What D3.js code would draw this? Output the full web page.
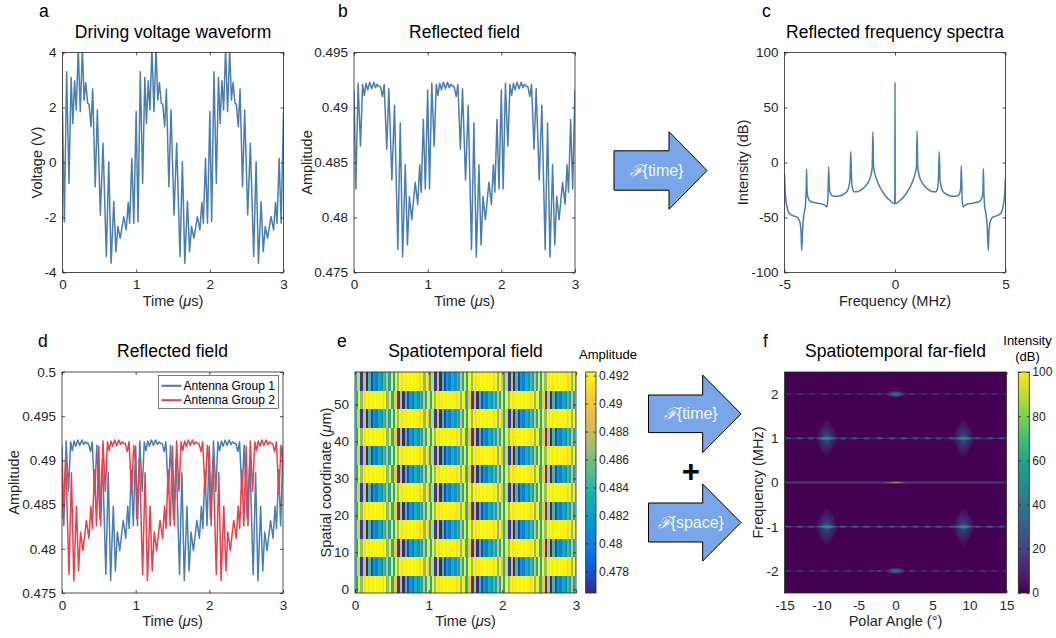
<!DOCTYPE html>
<html><head><meta charset="utf-8">
<script src="https://cdn.jsdelivr.net/npm/d3@7"></script>
<style>
body{margin:0;background:#fff;}
svg{display:block;font-family:"Liberation Sans",Arial,Helvetica,sans-serif;}
</style></head><body>
<svg id="fig" width="1056" height="638"></svg>
<script>
// ---------------- DATA ----------------
// panel a/b/d(group 1): sample times (µs)
const timeG1 = [
 0,0.025,0.056,0.088,0.117,0.140,0.164,0.187,0.214,0.241,0.270,0.293,0.315,0.342,0.360,0.387,0.410,0.444,0.473,0.514,0.550,0.595,0.628,0.660,0.696,0.725,0.752,0.784,0.831,0.865,0.892,0.912,0.941,0.968,
 1.000,1.025,1.056,1.088,1.117,1.140,1.164,1.187,1.214,1.241,1.270,1.293,1.315,1.342,1.360,1.387,1.410,1.444,1.473,1.514,1.550,1.595,1.628,1.660,1.696,1.725,1.752,1.784,1.831,1.865,1.892,1.912,1.941,1.968,
 2.000,2.025,2.056,2.088,2.117,2.140,2.164,2.187,2.214,2.241,2.270,2.293,2.315,2.342,2.360,2.387,2.410,2.444,2.473,2.514,2.550,2.595,2.628,2.660,2.696,2.725,2.752,2.784,2.831,2.865,2.892,2.912,2.941,2.968,
 3.000];
// panel a: driving voltage (V)
const voltage = [
 1.85,-2.15,3.30,-0.76,3.09,1.42,2.97,1.91,4.15,1.85,4.15,2.27,2.91,2.15,2.12,1.30,2.67,-0.88,1.91,-1.91,0.70,-3.42,0.03,-3.66,-1.42,-3.24,-2.33,-2.75,-1.97,-2.45,-1.45,-2.21,0.15,-2.21,
 1.85,-2.15,3.30,-0.76,3.09,1.42,2.97,1.91,4.15,1.85,4.15,2.27,2.91,2.15,2.12,1.30,2.67,-0.88,1.91,-1.91,0.70,-3.42,0.03,-3.66,-1.42,-3.24,-2.33,-2.75,-1.97,-2.45,-1.45,-2.21,0.15,-2.21,
 1.85,-2.15,3.30,-0.76,3.09,1.42,2.97,1.91,4.15,1.85,4.15,2.27,2.91,2.15,2.12,1.30,2.67,-0.88,1.91,-1.91,0.70,-3.42,0.03,-3.66,-1.42,-3.24,-2.33,-2.75,-1.97,-2.45,-1.45,-2.21,0.15,-2.21,
 1.85];
// panel b / d (Antenna Group 1): reflected amplitude
const ampG1 = [
 0.4916,0.4826,0.4922,0.4865,0.4921,0.4911,0.4922,0.4916,0.4923,0.4917,0.4923,0.4918,0.4921,0.4919,0.4919,0.4910,0.4921,0.4862,0.4917,0.4834,0.4902,0.4771,0.4886,0.4764,0.4848,0.4775,0.4819,0.4798,0.4832,0.4812,0.4848,0.4823,0.4889,0.4826,
 0.4916,0.4826,0.4922,0.4865,0.4921,0.4911,0.4922,0.4916,0.4923,0.4917,0.4923,0.4918,0.4921,0.4919,0.4919,0.4910,0.4921,0.4862,0.4917,0.4834,0.4902,0.4771,0.4886,0.4764,0.4848,0.4775,0.4819,0.4798,0.4832,0.4812,0.4848,0.4823,0.4889,0.4826,
 0.4916,0.4826,0.4922,0.4865,0.4921,0.4911,0.4922,0.4916,0.4923,0.4917,0.4923,0.4918,0.4921,0.4919,0.4919,0.4910,0.4921,0.4862,0.4917,0.4834,0.4902,0.4771,0.4886,0.4764,0.4848,0.4775,0.4819,0.4798,0.4832,0.4812,0.4848,0.4823,0.4889,0.4826,
 0.4916];
// panel d (Antenna Group 2)
const timeG2 = [
 0,0.014,0.050,0.095,0.128,0.160,0.196,0.225,0.252,0.284,0.331,0.365,0.392,0.412,0.441,0.468,0.500,0.525,0.556,0.588,0.617,0.640,0.664,0.687,0.714,0.741,0.770,0.793,0.815,0.842,0.860,0.887,0.910,0.944,0.973,
 1.000,1.014,1.050,1.095,1.128,1.160,1.196,1.225,1.252,1.284,1.331,1.365,1.392,1.412,1.441,1.468,1.500,1.525,1.556,1.588,1.617,1.640,1.664,1.687,1.714,1.741,1.770,1.793,1.815,1.842,1.860,1.887,1.910,1.944,1.973,
 2.000,2.014,2.050,2.095,2.128,2.160,2.196,2.225,2.252,2.284,2.331,2.365,2.392,2.412,2.441,2.468,2.500,2.525,2.556,2.588,2.617,2.640,2.664,2.687,2.714,2.741,2.770,2.793,2.815,2.842,2.860,2.887,2.910,2.944,2.973,
 3.000];
const ampG2 = [
 0.4895,0.4834,0.4902,0.4771,0.4886,0.4764,0.4848,0.4775,0.4819,0.4798,0.4832,0.4812,0.4848,0.4823,0.4889,0.4826,0.4916,0.4826,0.4922,0.4865,0.4921,0.4911,0.4922,0.4916,0.4923,0.4917,0.4923,0.4918,0.4921,0.4919,0.4919,0.4910,0.4921,0.4862,0.4917,
 0.4895,0.4834,0.4902,0.4771,0.4886,0.4764,0.4848,0.4775,0.4819,0.4798,0.4832,0.4812,0.4848,0.4823,0.4889,0.4826,0.4916,0.4826,0.4922,0.4865,0.4921,0.4911,0.4922,0.4916,0.4923,0.4917,0.4923,0.4918,0.4921,0.4919,0.4919,0.4910,0.4921,0.4862,0.4917,
 0.4895,0.4834,0.4902,0.4771,0.4886,0.4764,0.4848,0.4775,0.4819,0.4798,0.4832,0.4812,0.4848,0.4823,0.4889,0.4826,0.4916,0.4826,0.4922,0.4865,0.4921,0.4911,0.4922,0.4916,0.4923,0.4917,0.4923,0.4918,0.4921,0.4919,0.4919,0.4910,0.4921,0.4862,0.4917,
 0.4895];
// panel c: spectrum
const specFreq = [-5.00,-4.97,-4.94,-4.89,-4.83,-4.74,-4.59,-4.44,-4.34,-4.28,-4.25,-4.22,-4.17,-4.11,-4.05,-4.02,-4.00,-3.98,-3.94,-3.82,-3.51,-3.28,-3.13,-3.09,-3.04,-3.00,-2.97,-2.90,-2.76,-2.53,-2.30,-2.15,-2.04,-2.00,-1.97,-1.925,-1.85,-1.70,-1.47,-1.26,-1.11,-1.03,-1.00,-0.97,-0.87,-0.69,-0.46,-0.23,-0.01,0.00,0.01,
 0.23,0.46,0.69,0.87,0.97,1.00,1.03,1.11,1.26,1.47,1.70,1.85,1.925,1.97,2.00,2.04,2.15,2.30,2.53,2.76,2.90,2.97,3.00,3.04,3.09,3.13,3.28,3.51,3.82,3.94,3.98,4.00,4.02,4.05,4.11,4.17,4.22,4.25,4.28,4.34,4.44,4.59,4.74,4.83,4.89,4.94,4.97,5.00];
const specDb = [-11,-25,-34,-40,-44.6,-47,-48.5,-49.7,-52,-56.7,-64,-80,-57,-46,-38.5,-25,-6,-25,-31.6,-35.5,-37,-38,-39.5,-40.5,-34,-4,-24,-29,-30.7,-30.4,-28.6,-25.6,-16,10,-12,-23.4,-26.5,-26.5,-24,-19.5,-13,-4,28,-4,-13,-22,-29.5,-34.6,-37.5,73,-37.5,
 -34.6,-29.5,-22,-13,-4,28.5,-4,-13,-19.5,-24,-26.5,-26.5,-23.4,-12,10,-16,-25.6,-28.6,-30.4,-30.7,-29,-24,-3,-34,-40.5,-39.5,-38,-37,-35.5,-31.6,-25,-5.5,-25,-38.5,-46,-57,-80,-64,-56.7,-52,-49.7,-48.5,-47,-44.6,-40,-34,-26,-14];
// panel e: spatial rows (µm) and which antenna group drives each row
const rowCoord = [1.3,6.3,11.3,16.3,21.3,26.3,31.3,36.3,41.3,46.3,51.3,56.3];
const rowGroup = [1,2,1,2,1,2,1,2,1,2,1,2];
// panel f: far-field features
const ffRowFreq = [-2,-1,0,1,2];
const ffRowDb   = [16,26,70,26,16];
const ffSideAngles1 = [-14.6,-13.0,-11.4,-7.1,-5.5,-3.9,-2.2,-0.5,1.1,2.7,4.3,5.9,7.6,11.1,12.8,14.4];
const ffSideAngles2 = [-14.5,-12.9,-11.3,-9.6,-8.0,-6.4,-4.8,-3.2,-2.2,2.2,3.8,5.4,7.0,8.6,10.2,11.8,13.4,15.0];
// [frequency MHz, angle deg, intensity dB, half-width deg, half-height MHz, shape]
const ffLobes = [
 [1,-9.3,34,1.65,0.48,'diamond'],[1,9.2,34,1.65,0.48,'diamond'],[-1,-9.3,34,1.65,0.48,'diamond'],[-1,9.2,34,1.65,0.48,'diamond'],
 [1,-9.3,50,1.6,0.05,'ellipse'],[1,9.2,50,1.6,0.05,'ellipse'],[-1,-9.3,50,1.6,0.05,'ellipse'],[-1,9.2,50,1.6,0.05,'ellipse'],
 [2,0,38,1.4,0.08,'ellipse'],[-2,0,38,1.4,0.08,'ellipse'],
 [0,0,100,1.6,0.03,'ellipse']
];
const xTicksTime = [0,1,2,3];
const yTicksA = [-4,-2,0,2,4];
const yTicksB = [0.475,0.48,0.485,0.49,0.495];
const yTicksD = [0.475,0.48,0.485,0.49,0.495,0.5];
const xTicksC = [-5,0,5];
const yTicksC = [-100,-50,0,50,100];
const yTicksE = [0,10,20,30,40,50];
const cbTicksE = [0.478,0.48,0.482,0.484,0.486,0.488,0.49,0.492];
const xTicksF = [-15,-10,-5,0,5,10,15];
const yTicksF = [-2,-1,0,1,2];
const cbTicksF = [0,20,40,60,80,100];

// ---------------- STYLE ----------------
const AX = '#262626', BLUE = '#4a7eaf', RED = '#e8414b';
const TICK = 13.5, LAB = 14.5, TITLE = 17.5;
const parulaRGB = [[53,42,135],[15,92,221],[18,125,216],[7,156,207],[21,177,180],[89,189,140],[165,190,107],[225,185,82],[252,206,46],[249,251,14]];
const parula = d3.scaleLinear().domain(parulaRGB.map((d,i)=>i/(parulaRGB.length-1)))
  .range(parulaRGB.map(c=>`rgb(${c[0]},${c[1]},${c[2]})`)).interpolate(d3.interpolateRgb).clamp(true);

const svg = d3.select('#fig');
svg.append('rect').attr('width',1056).attr('height',638).attr('fill','#fff');
const defs = svg.append('defs');
const fmt = d => String(d);
let clipN = 0;

function makeAxes(x0,x1,y0,y1,xd,yd){
  const x = d3.scaleLinear().domain(xd).range([x0,x1]);
  const y = d3.scaleLinear().domain(yd).range([y1,y0]);
  const id = 'clip'+(clipN++);
  defs.append('clipPath').attr('id',id).append('rect').attr('x',x0).attr('y',y0).attr('width',x1-x0).attr('height',y1-y0);
  const g = svg.append('g');
  const plot = g.append('g').attr('clip-path',`url(#${id})`);
  return {x,y,g,plot,x0,x1,y0,y1};
}
function styleAxis(sel, size){
  sel.select('.domain').remove();
  sel.attr('font-family',null).attr('font-size',null);
  sel.selectAll('line').attr('stroke',AX).attr('stroke-width',0.8);
  sel.selectAll('text').attr('fill',AX).attr('font-size',size);
}
function frame(ax, xt, yt, o){
  const {x,y,g,x0,x1,y0,y1} = ax;
  g.append('g').attr('transform',`translate(0,${y1})`)
    .call(d3.axisBottom(x).tickValues(xt).tickFormat(fmt).tickSize(-3).tickSizeOuter(0).tickPadding(7)).call(s=>styleAxis(s,TICK));
  g.append('g').attr('transform',`translate(0,${y0})`)
    .call(d3.axisTop(x).tickValues(xt).tickFormat('').tickSize(-3).tickSizeOuter(0)).call(s=>styleAxis(s,TICK));
  g.append('g').attr('transform',`translate(${x0},0)`)
    .call(d3.axisLeft(y).tickValues(yt).tickFormat(fmt).tickSize(-3).tickSizeOuter(0).tickPadding(6)).call(s=>styleAxis(s,TICK));
  g.append('g').attr('transform',`translate(${x1},0)`)
    .call(d3.axisRight(y).tickValues(yt).tickFormat('').tickSize(-3).tickSizeOuter(0)).call(s=>styleAxis(s,TICK));
  g.append('rect').attr('x',x0).attr('y',y0).attr('width',x1-x0).attr('height',y1-y0)
    .attr('fill','none').attr('stroke',AX).attr('stroke-width',0.8);
  g.append('text').attr('x',(x0+x1)/2).attr('y',y0-15).attr('text-anchor','middle')
    .attr('font-size',TITLE).attr('fill','#000').text(o.title);
  const xl = g.append('text').attr('x',(x0+x1)/2).attr('y',y1+33).attr('text-anchor','middle')
    .attr('font-size',LAB).attr('fill',AX);
  o.xlabel.forEach(p=>{ const t = xl.append('tspan').text(p[0]); if(p[1]) t.attr('font-style','italic'); });
  const yl = g.append('text').attr('transform',`translate(${o.ylx},${(y0+y1)/2}) rotate(-90)`).attr('text-anchor','middle')
    .attr('font-size',LAB).attr('fill',AX);
  o.ylabel.forEach(p=>{ const t = yl.append('tspan').text(p[0]); if(p[1]) t.attr('font-style','italic'); });
  svg.append('text').attr('x',o.lx).attr('y',o.ly).attr('font-size',17.5).attr('fill','#000').text(o.letter);
}
const timeLabel = [['Time ('],['μ',true],['s)']];

function line(ax, xs, ys, color, w, curve){
  const gen = d3.line().x(i=>ax.x(xs[i])).y(i=>ax.y(ys[i])).curve(curve||d3.curveLinear);
  ax.plot.append('path').attr('d',gen(d3.range(xs.length))).attr('fill','none')
    .attr('stroke',color).attr('stroke-width',w).attr('stroke-linejoin','round');
}

// ---------- panel a ----------
const A = makeAxes(62.5,283.5,52.5,272.5,[0,3],[-4,4]);
line(A,timeG1,voltage,BLUE,1.5);
frame(A,xTicksTime,yTicksA,{title:'Driving voltage waveform',xlabel:timeLabel,ylabel:[['Voltage (V)']],ylx:41.5,letter:'a',lx:39,ly:16.7});

// ---------- panel b ----------
const B = makeAxes(354,575,52.5,272.5,[0,3],[0.475,0.495]);
line(B,timeG1,ampG1,BLUE,1.5);
frame(B,xTicksTime,yTicksB,{title:'Reflected field',xlabel:timeLabel,ylabel:[['Amplitude']],ylx:312,letter:'b',lx:338,ly:16.7});

// ---------- panel c ----------
const C = makeAxes(784.5,1005.5,52.5,272.5,[-5,5],[-100,100]);
line(C,specFreq,specDb,BLUE,1.5,d3.curveMonotoneX);
frame(C,xTicksC,yTicksC,{title:'Reflected frequency spectra',xlabel:[['Frequency (MHz)']],ylabel:[['Intensity (dB)']],ylx:747.5,letter:'c',lx:762,ly:16.7});

// ---------- panel d ----------
const D = makeAxes(62,283,372,593,[0,3],[0.475,0.5]);
line(D,timeG1,ampG1,BLUE,1.5);
line(D,timeG2,ampG2,RED,1.5);
frame(D,xTicksTime,yTicksD,{title:'Reflected field',xlabel:timeLabel,ylabel:[['Amplitude']],ylx:18.7,letter:'d',lx:38,ly:346.7});
const leg = svg.append('g');
leg.append('rect').attr('x',158.5).attr('y',375.5).attr('width',120).attr('height',33).attr('fill','#fff').attr('stroke',AX).attr('stroke-width',0.6);
[['Antenna Group 1',BLUE,385.8],['Antenna Group 2',RED,400.2]].forEach(e=>{
  leg.append('line').attr('x1',161.5).attr('x2',181.5).attr('y1',e[2]).attr('y2',e[2]).attr('stroke',e[1]).attr('stroke-width',2);
  leg.append('text').attr('x',183.5).attr('y',e[2]+4.2).attr('font-size',12).attr('fill','#000').text(e[0]);
});

// ---------- panel e ----------
const E = makeAxes(355,576,372,593,[0,3],[-1,58.8]);
const eDomain = [0.47645,0.49226];
const eNorm = d3.scaleLinear().domain(eDomain).range([0,1]);
function edges(ts){ const e=[0]; for(let i=1;i<ts.length;i++) e.push((ts[i-1]+ts[i])/2); e.push(3); return e; }
const series = {1:{t:timeG1,v:ampG1},2:{t:timeG2,v:ampG2}};
const cellG = E.plot.append('g').attr('shape-rendering','crispEdges');
rowCoord.forEach((yc,r)=>{
  const s = series[rowGroup[r]], ed = edges(s.t);
  const ytop = E.y(yc+2.5), ybot = E.y(yc-2.5);
  s.v.forEach((v,i)=>{
    cellG.append('rect').attr('x',E.x(ed[i])).attr('width',Math.max(0.3,E.x(ed[i+1])-E.x(ed[i]))+0.4)
      .attr('y',ytop).attr('height',ybot-ytop+0.3).attr('fill',parula(eNorm(v)));
  });
});
frame(E,xTicksTime,yTicksE,{title:'Spatiotemporal field',xlabel:timeLabel,ylabel:[['Spatial coordinate ('],['μ',true],['m)']],ylx:330.5,letter:'e',lx:337,ly:346.7});

function colorbar(x0,x1,y0,y1,domain,ticks,cmap,id){
  const gr = defs.append('linearGradient').attr('id',id).attr('x1',0).attr('y1',1).attr('x2',0).attr('y2',0);
  d3.range(0,1.0001,0.02).forEach(t=>gr.append('stop').attr('offset',t).attr('stop-color',cmap(t)));
  const s = d3.scaleLinear().domain(domain).range([y1,y0]);
  const g = svg.append('g');
  g.append('rect').attr('x',x0).attr('y',y0).attr('width',x1-x0).attr('height',y1-y0).attr('fill',`url(#${id})`);
  g.append('g').attr('transform',`translate(${x1},0)`)
    .call(d3.axisRight(s).tickValues(ticks).tickFormat(fmt).tickSize(-2.5).tickSizeOuter(0).tickPadding(3)).call(a=>styleAxis(a,12));
  g.append('g').attr('transform',`translate(${x0},0)`)
    .call(d3.axisLeft(s).tickValues(ticks).tickFormat('').tickSize(-2.5).tickSizeOuter(0)).call(a=>styleAxis(a,12));
  g.append('rect').attr('x',x0).attr('y',y0).attr('width',x1-x0).attr('height',y1-y0).attr('fill','none').attr('stroke',AX).attr('stroke-width',0.8);
  return g;
}
colorbar(585.7,596,372,593,eDomain,cbTicksE,parula,'cbE');
svg.append('text').attr('x',608).attr('y',359.3).attr('text-anchor','middle').attr('font-size',13).attr('fill','#000').text('Amplitude');

// ---------- panel f ----------
const F = makeAxes(784.5,1006.5,372,593,[-15,15],[-2.5,2.5]);
const vir = t => d3.interpolateViridis(Math.max(0,Math.min(1,t)));
F.plot.append('rect').attr('x',F.x0).attr('y',F.y0).attr('width',F.x1-F.x0).attr('height',F.y1-F.y0).attr('fill',vir(0));
ffRowFreq.forEach((f,i)=>{
  F.plot.append('rect').attr('x',F.x0).attr('width',F.x1-F.x0).attr('y',F.y(f)-(f===0?1.2:0.7)).attr('height',f===0?2.4:1.4)
    .attr('fill',vir(ffRowDb[i]/100)).attr('opacity',f===0?0.3:(Math.abs(f)===2?0.4:0.5));
});
let gid = 0;
function lobe(f,a,db,hw,hh,shape,op){
  const id='lobe'+(gid++), c=vir(db/100);
  const gr = defs.append('radialGradient').attr('id',id).attr('cx','50%').attr('cy','50%').attr('r','50%');
  const stops = shape==='diamond' ? [[0,1],[0.3,0.6],[0.7,0.2],[1,0]] : [[0,1],[0.4,0.75],[1,0]];
  stops.forEach(s=>gr.append('stop').attr('offset',s[0]).attr('stop-color',c).attr('stop-opacity',s[1]));
  const cx=F.x(a), cy=F.y(f), w=F.x(a+hw)-cx, h=cy-F.y(f+hh);
  if(shape==='diamond'){
    F.plot.append('path').attr('d',`M${cx-w},${cy}L${cx},${cy-h}L${cx+w},${cy}L${cx},${cy+h}Z`).attr('fill',`url(#${id})`).attr('opacity',op||1);
  } else {
    F.plot.append('ellipse').attr('cx',cx).attr('cy',cy).attr('rx',w).attr('ry',h).attr('fill',`url(#${id})`).attr('opacity',op||1);
  }
}
[1,-1].forEach(f=>ffSideAngles1.forEach(a=>lobe(f,a,33,0.65,0.04,'ellipse',0.85)));
[2,-2].forEach(f=>ffSideAngles2.forEach(a=>lobe(f,a,Math.abs(a)===2.2?24:18,0.6,0.035,'ellipse',0.7)));
ffLobes.forEach(l=>lobe(l[0],l[1],l[2],l[3],l[4],l[5],l[2]===100?0.45:(l[5]==='diamond'?0.8:1)));
frame(F,xTicksF,yTicksF,{title:'Spatiotemporal far-field',xlabel:[['Polar Angle (°)']],ylabel:[['Frequency (MHz)']],ylx:763,letter:'f',lx:763,ly:346.7});
colorbar(1018.3,1029.3,372,593,[0,100],cbTicksF,t=>d3.interpolateViridis(t),'cbF');
svg.append('text').attr('x',1027.5).attr('y',345).attr('text-anchor','middle').attr('font-size',13).attr('fill','#000').text('Intensity');
svg.append('text').attr('x',1027.5).attr('y',360.7).attr('text-anchor','middle').attr('font-size',13).attr('fill','#000').text('(dB)');

// ---------- arrows ----------
function arrow(xL,xN,xT,yc,sh,hh,label){
  const g = svg.append('g');
  g.append('path').attr('d',`M${xL},${yc-sh}H${xN}V${yc-hh}L${xT},${yc}L${xN},${yc+hh}V${yc+sh}H${xL}Z`)
    .attr('fill','#79a6e8').attr('stroke','#000').attr('stroke-width',1).attr('stroke-linejoin','miter');
  const t = g.append('text').attr('x',(xL+xT)/2-4).attr('y',yc+5.5).attr('text-anchor','middle')
    .attr('font-size',16).attr('fill','#f2f6fc');
  t.append('tspan').attr('font-family','"DejaVu Serif",serif').attr('font-style','italic').text('ℱ');
  t.append('tspan').text(label);
}
arrow(614,669,707,170.5,19.7,38.8,'{time}');
arrow(648.5,702.7,741,413.8,18.8,38.7,'{time}');
arrow(648.5,702.7,741,522.5,19.5,38.5,'{space}');
svg.append('text').attr('x',690.7).attr('y',482).attr('text-anchor','middle').attr('font-size',31).attr('font-weight','bold').attr('fill','#000').text('+');
</script>
</body></html>
